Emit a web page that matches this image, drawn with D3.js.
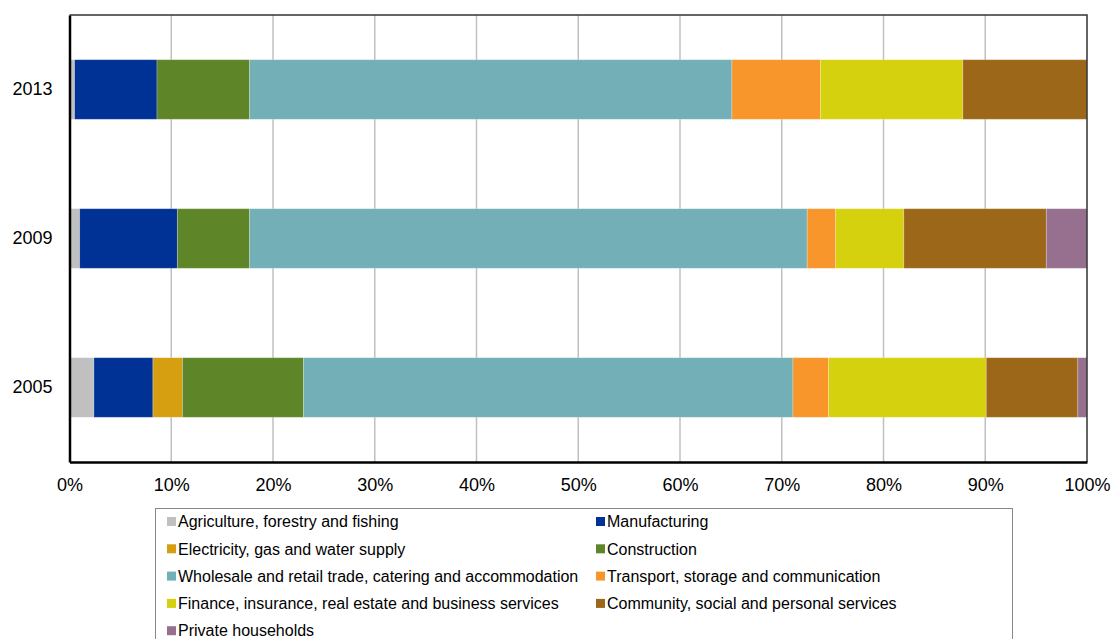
<!DOCTYPE html>
<html>
<head>
<meta charset="utf-8">
<script src="https://cdn.jsdelivr.net/npm/d3@7"></script>
<style>
  html, body { margin: 0; padding: 0; background: #fff; }
  svg { display: block; font-family: "Liberation Sans", Arial, sans-serif; }
</style>
</head>
<body>
<svg id="chart" width="1113" height="639"></svg>
<script>
// Share of employment by sector (%), stacked to 100% per year
const years = ["2013", "2009", "2005"];
const sectors = [
  "Agriculture, forestry and fishing",
  "Manufacturing",
  "Electricity, gas and water supply",
  "Construction",
  "Wholesale and retail trade, catering and accommodation",
  "Transport, storage and communication",
  "Finance, insurance, real estate and business services",
  "Community, social and personal services",
  "Private households"
];
const sectorColors = ["#c0c0c0", "#003296", "#d69f12", "#5e8629", "#73afb6", "#f9962b", "#d5d10e", "#9c6719", "#96708e"];

// values per year, in sector order
const values2013 = [0.5, 8.1, 0.0, 9.1, 47.4, 8.7, 14.0, 12.2, 0.0];
const values2009 = [1.0, 9.6, 0.0, 7.1, 54.8, 2.8, 6.7, 14.0, 4.0];
const values2005 = [2.4, 5.8, 2.9, 11.9, 48.1, 3.5, 15.5, 9.0, 0.9];

const xTicks = [0, 10, 20, 30, 40, 50, 60, 70, 80, 90, 100];

const valuesByYear = { "2013": values2013, "2009": values2009, "2005": values2005 };
const table = years.map(y => {
  const row = { year: y };
  sectors.forEach((s, i) => row[s] = valuesByYear[y][i]);
  return row;
});

const svg = d3.select("#chart");
const margin = { left: 69.5, right: 26, top: 15, bottom: 177 };
const W = 1113, H = 639;
const x = d3.scaleLinear().domain([0, 100]).range([margin.left, W - margin.right]);
const y = d3.scaleBand().domain(years).range([margin.top, H - margin.bottom]).paddingInner(0.6).paddingOuter(0.3);

// vertical gridlines
svg.append("g").selectAll("line").data(xTicks.slice(1, -1)).join("line")
  .attr("x1", d => x(d)).attr("x2", d => x(d))
  .attr("y1", margin.top).attr("y2", H - margin.bottom)
  .attr("stroke", "#c0c0c0").attr("stroke-width", 1.5);

// stacked bars
const stack = d3.stack().keys(sectors)(table);
const color = d3.scaleOrdinal().domain(sectors).range(sectorColors);
svg.append("g").selectAll("g").data(stack).join("g")
  .attr("fill", d => color(d.key))
  .selectAll("rect").data(d => d.filter(p => p[1] - p[0] > 0)).join("rect")
  .attr("x", d => x(d[0]))
  .attr("width", d => x(d[1]) - x(d[0]))
  .attr("y", d => y(d.data.year))
  .attr("height", y.bandwidth())
  .attr("stroke", "rgba(255,255,255,0.3)")
  .attr("stroke-width", 0.8);

// plot frame: top and right
svg.append("path")
  .attr("d", `M${x(0)},${margin.top}H${x(100)}V${H - margin.bottom}`)
  .attr("fill", "none").attr("stroke", "#333").attr("stroke-width", 1.5);

// x axis
const xAxis = svg.append("g")
  .attr("transform", `translate(0,${H - margin.bottom})`)
  .call(d3.axisBottom(x).tickValues(xTicks).tickFormat(d => d + "%").tickSize(0).tickPadding(16));
xAxis.select(".domain").attr("stroke", "#000").attr("stroke-width", 2.5);
xAxis.selectAll("text").attr("font-size", 18).attr("fill", "#000")
  .attr("font-family", "Liberation Sans, Arial, sans-serif");

// y axis
const yAxis = svg.append("g")
  .attr("transform", `translate(${margin.left},0)`)
  .call(d3.axisLeft(y).tickSize(0).tickPadding(17));
yAxis.select(".domain").attr("stroke", "#000").attr("stroke-width", 2.5);
yAxis.selectAll("text").attr("font-size", 18).attr("fill", "#000")
  .attr("font-family", "Liberation Sans, Arial, sans-serif");

// legend
const legend = svg.append("g");
legend.append("rect")
  .attr("x", 155.5).attr("y", 508.5).attr("width", 857).attr("height", 140)
  .attr("fill", "#fff").attr("stroke", "#888").attr("stroke-width", 1);
const colX = [167, 596];
const rowY0 = 521.5, rowStep = 27.3;
const items = legend.selectAll("g.item").data(sectors).join("g")
  .attr("class", "item")
  .attr("transform", (d, i) => `translate(${colX[i % 2]},${rowY0 + Math.floor(i / 2) * rowStep})`);
items.append("rect").attr("x", 0).attr("y", -4.5).attr("width", 9).attr("height", 9)
  .attr("fill", d => color(d));
items.append("text").attr("x", 11).attr("dy", "0.36em")
  .attr("font-size", 16).attr("fill", "#000").text(d => d);
</script>
</body>
</html>
